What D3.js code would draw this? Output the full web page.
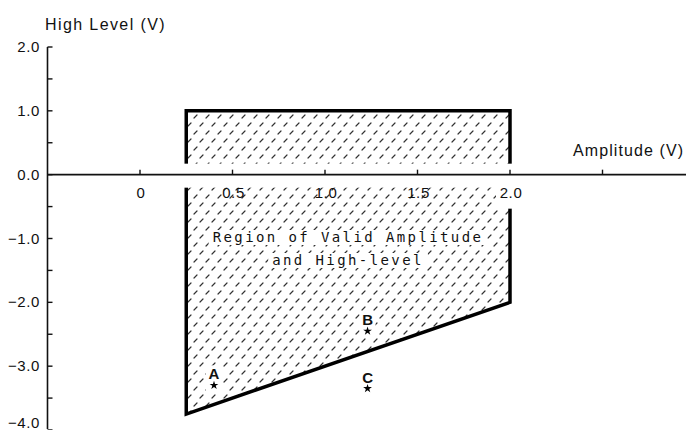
<!DOCTYPE html>
<html>
<head>
<meta charset="utf-8">
<script src="https://cdn.jsdelivr.net/npm/d3@7"></script>
<style>
  body { margin: 0; background: #fff; }
  text { fill: #111; }
</style>
</head>
<body>
<div id="canvas"></div>
<script>
"use strict"

// data
let yTicks = [2, 1, 0, -1, -2, -3, -4];
let yMinorTicks = [1.5, 0.5, -0.5, -1.5, -2.5, -3.5];
let xTicks = [0, 0.5, 1, 1.5, 2, 2.5];
let xTickLabels = ["0", "0.5", "1.0", "1.5", "2.0", ""];

// valid region (amplitude, high level)
let regionAmp = [0.25, 2.0, 2.0, 0.25];
let regionHigh = [1.0, 1.0, -2.0, -3.75];

let pointNames = ["A", "B", "C"];
let pointAmp = [0.4, 1.23, 1.23];
let pointHigh = [-3.3, -2.45, -3.35];

let svgWidth = 686;
let svgHeight = 430;

let svg = d3.select("#canvas")
    .append("svg")
    .attr("width", svgWidth)
    .attr("height", svgHeight);

let xScale = d3.scaleLinear().domain([-0.5, 3]).range([47.5, 695]);
let yScale = d3.scaleLinear().domain([-4, 2]).range([430, 47]);

let sans = "Arial, 'Liberation Sans', sans-serif";
let mono = "'DejaVu Sans Mono', monospace";

// hatch pattern
let defs = svg.append("defs");
let pat = defs.append("pattern")
    .attr("id", "hatch")
    .attr("patternUnits", "userSpaceOnUse")
    .attr("width", 12)
    .attr("height", 16);
pat.append("path")
    .attr("d", "M2,6 L5,3 M8,14 L11,11")
    .attr("stroke", "#333")
    .attr("stroke-width", 1.2)
    .attr("stroke-linecap", "round");

// region polygon
let regionPts = [];
for (let i = 0; i < regionAmp.length; i++) {
    regionPts.push([xScale(regionAmp[i]), yScale(regionHigh[i])]);
}
svg.append("path")
    .attr("d", d3.line()(regionPts) + "Z")
    .attr("fill", "url(#hatch)")
    .attr("stroke", "#000")
    .attr("stroke-width", 3.5)
    .attr("stroke-linejoin", "miter");

// white band around the x axis, cutting the region
svg.append("rect")
    .attr("x", xScale(0.25) - 4)
    .attr("y", yScale(0) - 11)
    .attr("width", xScale(2) - xScale(0.25) + 8)
    .attr("height", 24)
    .attr("fill", "#fff");
// white box behind the 2.0 label on the right edge
svg.append("rect")
    .attr("x", xScale(2) - 14)
    .attr("y", yScale(0) + 10)
    .attr("width", 30)
    .attr("height", 24)
    .attr("fill", "#fff");

// region text with white background
let regionLines = ["Region of Valid Amplitude", "and High-level"];
let lineY = [242, 265];
for (let i = 0; i < regionLines.length; i++) {
    let t = svg.append("text")
        .attr("x", 348)
        .attr("y", lineY[i])
        .attr("text-anchor", "middle")
        .style("font-family", mono)
        .style("font-size", "14px")
        .style("letter-spacing", "2.4px")
        .text(regionLines[i]);
    let bb = t.node().getBBox();
    svg.insert("rect", function() { return t.node(); })
        .attr("x", bb.x - 4)
        .attr("y", bb.y + 1)
        .attr("width", bb.width + 8)
        .attr("height", bb.height - 1)
        .attr("fill", "#fff");
}

// y axis
svg.append("line")
    .attr("x1", xScale(-0.5)).attr("x2", xScale(-0.5))
    .attr("y1", yScale(2)).attr("y2", yScale(-4) - 1)
    .attr("stroke", "#111").attr("stroke-width", 1.6);
let allY = yTicks.concat(yMinorTicks);
for (let i = 0; i < allY.length; i++) {
    svg.append("line")
        .attr("x1", xScale(-0.5)).attr("x2", xScale(-0.5) + 5)
        .attr("y1", yScale(allY[i])).attr("y2", yScale(allY[i]))
        .attr("stroke", "#111").attr("stroke-width", 1.4);
}
for (let i = 0; i < yTicks.length; i++) {
    let v = yTicks[i];
    let label = (v < 0 ? "\u2212" : "") + Math.abs(v).toFixed(1);
    svg.append("text")
        .attr("x", 40)
        .attr("y", Math.min(yScale(v) + 5, 428))
        .attr("text-anchor", "end")
        .style("font-family", sans)
        .style("font-size", "15px")
        .style("letter-spacing", "0.6px")
        .text(label);
}

// x axis
svg.append("line")
    .attr("x1", xScale(-0.5)).attr("x2", svgWidth)
    .attr("y1", yScale(0)).attr("y2", yScale(0))
    .attr("stroke", "#111").attr("stroke-width", 1.6);
for (let i = 0; i < xTicks.length; i++) {
    svg.append("line")
        .attr("x1", xScale(xTicks[i])).attr("x2", xScale(xTicks[i]))
        .attr("y1", yScale(0)).attr("y2", yScale(0) - 5)
        .attr("stroke", "#111").attr("stroke-width", 1.4);
    svg.append("text")
        .attr("x", xScale(xTicks[i]) + 1)
        .attr("y", yScale(0) + 23)
        .attr("text-anchor", "middle")
        .style("font-family", sans)
        .style("font-size", "15px")
        .style("letter-spacing", "0.6px")
        .text(xTickLabels[i]);
}

// axis titles
svg.append("text")
    .attr("x", 45)
    .attr("y", 30)
    .style("font-family", sans)
    .style("font-size", "16px")
    .style("letter-spacing", "1.4px")
    .text("High Level (V)");
svg.append("text")
    .attr("x", 573)
    .attr("y", 156)
    .style("font-family", sans)
    .style("font-size", "16px")
    .style("letter-spacing", "1.1px")
    .text("Amplitude (V)");

// points A, B, C
let star = d3.symbol().type(d3.symbolStar).size(24);
for (let i = 0; i < pointNames.length; i++) {
    let px = xScale(pointAmp[i]);
    let py = yScale(pointHigh[i]);
    svg.append("rect")
        .attr("x", px - 8).attr("y", py - 20)
        .attr("width", 16).attr("height", 26)
        .attr("fill", "#fff");
    svg.append("path")
        .attr("d", star())
        .attr("transform", "translate(" + px + "," + py + ")")
        .attr("fill", "#000");
    svg.append("text")
        .attr("x", px)
        .attr("y", py - 6)
        .attr("text-anchor", "middle")
        .style("font-family", sans)
        .style("font-weight", "bold")
        .style("font-size", "15px")
        .text(pointNames[i]);
}
</script>
</body>
</html>
